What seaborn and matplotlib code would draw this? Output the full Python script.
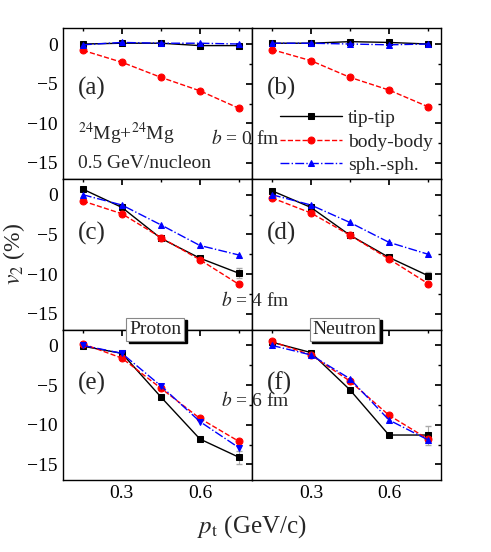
import numpy as np
import matplotlib
matplotlib.use("Agg")
import matplotlib.pyplot as plt
import seaborn as sns
from matplotlib.ticker import MultipleLocator

sns.set_theme(style="white")
plt.rcParams.update({
    'font.family': ['Liberation Serif', 'DejaVu Serif'],
    'mathtext.fontset': 'stix',
    'xtick.direction': 'in', 'ytick.direction': 'in',
    'xtick.top': True, 'ytick.right': True,
    'xtick.major.size': 4, 'ytick.major.size': 4,
    'xtick.minor.size': 2, 'ytick.minor.size': 2,
    'xtick.minor.visible': True, 'ytick.minor.visible': True,
    'font.size': 15,
})

pt = [0.15, 0.30, 0.45, 0.60, 0.75]
tip = {
    'a': [0.0, 0.1, 0.1, -0.2, -0.2], 'b': [0.1, 0.1, 0.3, 0.2, 0.0],
    'c': [0.7, -1.6, -5.5, -8.0, -9.9], 'd': [0.5, -1.6, -5.1, -7.9, -10.2],
    'e': [-0.1, -1.0, -6.5, -11.8, -14.1], 'f': [0.4, -0.9, -5.6, -11.3, -11.3],
}
body = {
    'a': [-0.8, -2.3, -4.2, -5.9, -8.1], 'b': [-0.7, -2.1, -4.2, -5.8, -7.9],
    'c': [-0.8, -2.4, -5.4, -8.2, -11.3], 'd': [-0.4, -2.3, -5.1, -8.1, -11.2],
    'e': [0.2, -1.6, -5.4, -9.2, -12.1], 'f': [0.5, -1.2, -4.5, -8.8, -11.8],
}
sph = {
    'a': [-0.1, 0.2, 0.1, 0.1, 0.0], 'b': [0.1, 0.1, 0.0, -0.1, 0.0],
    'c': [0.0, -1.3, -3.8, -6.4, -7.6], 'd': [0.0, -1.3, -3.5, -6.0, -7.5],
    'e': [0.0, -1.0, -5.1, -9.6, -12.9], 'f': [0.0, -1.2, -4.2, -9.4, -11.9],
}
tip_err = {'c': 0.6, 'd': 0.4, 'e': 0.8, 'f': 1.2}
panels = [['a', 'b'], ['c', 'd'], ['e', 'f']]

fig, axes = plt.subplots(3, 2, figsize=(4.91, 5.52), dpi=100, sharex=True, sharey=True)
fig.subplots_adjust(left=0.128, right=0.898, top=0.949, bottom=0.130, wspace=0, hspace=0)

for r in range(3):
    for c in range(2):
        ax = axes[r, c]
        k = panels[r][c]
        if k in tip_err:
            ax.errorbar(pt[3:], tip[k][3:], yerr=[0.3, tip_err[k]], fmt='none',
                        ecolor='#aaaaaa', elinewidth=0.8, capsize=2)
        sns.lineplot(x=pt, y=tip[k], ax=ax, color='black', lw=1, marker='s', ms=4,
                     mec='black', label='tip-tip')
        sns.lineplot(x=pt, y=body[k], ax=ax, color='red', ls='--', lw=1, marker='o', ms=5,
                     mec='red', label='body-body')
        sns.lineplot(x=pt, y=sph[k], ax=ax, color='blue', ls='-.', lw=1,
                     marker='v' if k == 'e' else '^', ms=5, mec='blue', label='sph.-sph.')
        if k != 'b':
            ax.get_legend().remove()
        ax.text(0.08, 0.56 if r == 0 else 0.6, f'({k})', transform=ax.transAxes, fontsize=18)
        ax.set_xlim(0.073, 0.80)
        ax.set_ylim(-17, 2)
        ax.xaxis.set_major_locator(MultipleLocator(0.3))
        ax.xaxis.set_minor_locator(MultipleLocator(0.15))
        ax.yaxis.set_major_locator(MultipleLocator(5))
        ax.yaxis.set_minor_locator(MultipleLocator(2.5))
        for s in ax.spines.values():
            s.set_color('black'); s.set_linewidth(1)
        ax.tick_params(which='both', colors='black', labelsize=14)

leg = axes[0, 1].legend(loc='lower right', frameon=False, fontsize=14, handlelength=3.2,
                        borderaxespad=0.0, labelspacing=0.3, handletextpad=0.3,
                        bbox_to_anchor=(1.0, -0.02))

axes[0, 0].text(0.08, 0.26, r'$^{24}$Mg+$^{24}$Mg', transform=axes[0, 0].transAxes, fontsize=14)
axes[0, 0].text(0.08, 0.07, '0.5 GeV/nucleon', transform=axes[0, 0].transAxes, fontsize=14)
fig.text(0.50, 0.74, r'$b$ = 0 fm', ha='center', fontsize=14)
fig.text(0.52, 0.445, r'$b$ = 4 fm', ha='center', fontsize=14)
fig.text(0.52, 0.265, r'$b$ = 6 fm', ha='center', fontsize=14)

for ax, name in [(axes[2, 0], 'Proton'), (axes[2, 1], 'Neutron')]:
    ax.text(0.505, 0.985, name, transform=ax.transAxes, ha='center', va='center', fontsize=14,
            color='black', bbox=dict(boxstyle='square,pad=0.15', fc='black', ec='black'), zorder=9)
    ax.text(0.49, 1.0, name, transform=ax.transAxes, ha='center', va='center', fontsize=14,
            bbox=dict(boxstyle='square,pad=0.15', fc='white', ec='#888888', lw=0.8), zorder=10)

fig.text(0.028, 0.54, r'$v_2$ (%)', rotation=90, va='center', ha='center', fontsize=17)
fig.text(0.513, 0.035, r'$p_{\rm t}$ (GeV/c)', ha='center', fontsize=18)
for ax in axes.flat:
    ax.set_xlabel(''); ax.set_ylabel('')

fig.savefig('out.png', dpi=100)
